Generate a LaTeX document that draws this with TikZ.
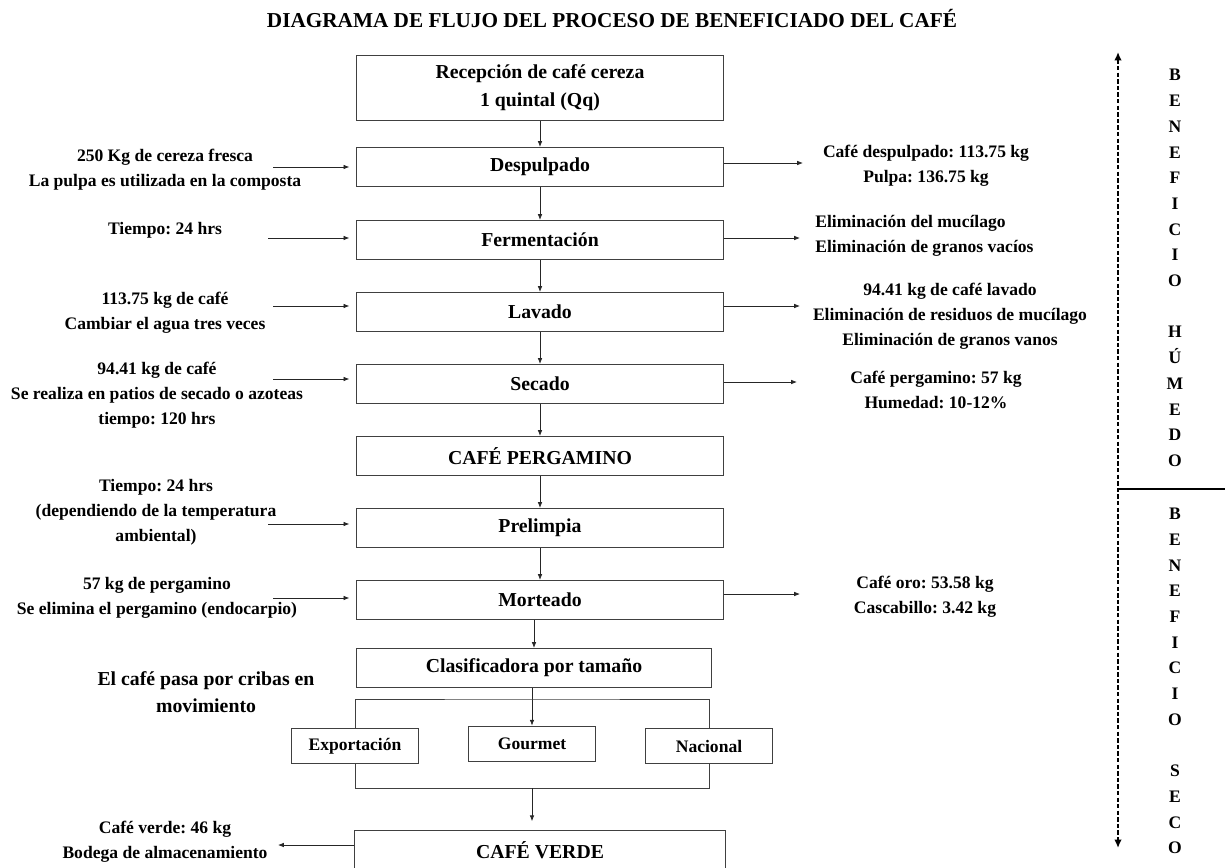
\documentclass[tikz,border=0pt]{standalone}
\usepackage{fontspec}
\setmainfont{Liberation Serif}
\usetikzlibrary{positioning,calc,arrows.meta}
\frenchspacing

\begin{document}
\begin{tikzpicture}[
  x=0.024cm, y=-0.024cm,
  caja/.style={
    draw=black!75, line width=0.6pt, align=center,
    minimum width=8.81cm, minimum height=0.94cm,
    font=\fontsize{13.5}{19}\selectfont\bfseries,
  },
  cajita/.style={
    caja, minimum width=3.05cm, minimum height=0.86cm,
    font=\fontsize{12}{15}\selectfont\bfseries,
  },
  nota/.style={align=center, inner sep=0pt, font=\fontsize{12}{17}\selectfont\bfseries},
  letras/.style={align=center, inner sep=0pt, font=\fontsize{12}{17.55}\selectfont\bfseries},
  flecha/.style={-{Latex[length=1.4mm,width=1.1mm]}, line width=0.5pt, black!85},
  linea/.style={line width=0.6pt, black!75},
  ]
  \clip (0,0) rectangle (1225,867);

  \node[font=\fontsize{14.5}{17}\selectfont\bfseries] (titulo) at (612,18)
    {DIAGRAMA DE FLUJO DEL PROCESO DE BENEFICIADO DEL CAFÉ};

  % proceso principal
  \node[caja, minimum height=1.58cm] (recep) at (540,88)  {Recepción de café cereza\\1 quintal (Qq)};
  \node[caja] (desp)  at (540,167) {Despulpado};
  \node[caja] (ferm)  at (540,240) {Fermentación};
  \node[caja] (lav)   at (540,312) {Lavado};
  \node[caja] (sec)   at (540,384) {Secado};
  \node[caja] (perg)  at (540,456) {CAFÉ PERGAMINO};
  \node[caja] (prel)  at (540,528) {Prelimpia};
  \node[caja] (mort)  at (540,600) {Morteado};
  \node[caja, minimum width=8.54cm] (clasif) at (534,668) {Clasificadora por tamaño};
  \node[cajita] (export)   at (355,746) {Exportación};
  \node[cajita] (gourmet)  at (532,744) {Gourmet};
  \node[cajita] (nacional) at (709,746) {Nacional};
  \node[caja, minimum width=8.9cm, minimum height=0.96cm] (verde) at (540,850) {CAFÉ VERDE};

  \foreach \a/\b in {recep/desp,desp/ferm,ferm/lav,lav/sec,sec/perg,perg/prel,prel/mort}
    \draw[flecha] (\a) -- (\b);
  \draw[flecha] (mort.south -| clasif.north) -- (clasif.north);

  \coordinate (rama)  at (532,699);
  \coordinate (junta) at (532,788);
  \draw[flecha] (clasif.south -| gourmet.north) -- (gourmet.north);
  \draw[linea] (export.north) |- (rama) -| (nacional.north);
  \draw[linea] (export.south) |- (junta) -| (nacional.south);
  \draw[flecha, shorten >=2mm] (junta) -- (junta |- verde.north);

  % entradas
  \node[nota] (t-desp) at (165,170) {250 Kg de cereza fresca\\La pulpa es utilizada en la composta};
  \node[nota] (t-ferm) at (165,230) {Tiempo: 24 hrs};
  \node[nota] (t-lav)  at (165,313) {113.75 kg de café\\Cambiar el agua tres veces};
  \node[nota] (t-sec)  at (157,395) {94.41 kg de café\\Se realiza en patios de secado o azoteas\\tiempo: 120 hrs};
  \node[nota] (t-prel) at (156,512) {Tiempo: 24 hrs\\(dependiendo de la temperatura\\ambiental)};
  \node[nota] (t-mort) at (157,598) {57 kg de pergamino\\Se elimina el pergamino (endocarpio)};
  \node[nota, font=\fontsize{13.5}{18.5}\selectfont\bfseries] (t-crib) at (206,692)
    {El café pasa por cribas en\\movimiento};
  \node[nota] (t-verde) at (165,842) {Café verde: 46 kg\\Bodega de almacenamiento};

  \coordinate (i-desp) at (273,167);
  \coordinate (i-ferm) at (268,238);
  \coordinate (i-lav)  at (273,306);
  \coordinate (i-sec)  at (273,379);
  \coordinate (i-prel) at (268,524);
  \coordinate (i-mort) at (273,598);
  \foreach \b in {desp,ferm,lav,sec,prel,mort}
    \draw[flecha, shorten >=1.6mm] (i-\b) -- (i-\b -| \b.west);

  % salidas
  \node[nota] (r-desp) at (926,166) {Café despulpado: 113.75 kg\\Pulpa: 136.75 kg};
  \node[nota, align=left, anchor=west] (r-ferm) at (815,236)
    {Eliminación del mucílago\\Eliminación de granos vacíos};
  \node[nota] (r-lav)  at (950,316) {94.41 kg de café lavado\\Eliminación de residuos de mucílago\\Eliminación de granos vanos};
  \node[nota] (r-sec)  at (936,390) {Café pergamino: 57 kg\\Humedad: 10-12\%};
  \node[nota] (r-mort) at (925,597) {Café oro: 53.58 kg\\Cascabillo: 3.42 kg};

  \coordinate (o-desp) at (803,163);
  \coordinate (o-ferm) at (800,238);
  \coordinate (o-lav)  at (800,306);
  \coordinate (o-sec)  at (797,382);
  \coordinate (o-mort) at (800,594);
  \foreach \b in {desp,ferm,lav,sec,mort}
    \draw[flecha] (o-\b -| \b.east) -- (o-\b);
  \coordinate (o-verde) at (278,845);
  \draw[flecha] (o-verde -| verde.west) -- (o-verde);

  % etapas del beneficio
  \coordinate (eje-arriba) at (1118,52);
  \coordinate (eje-abajo)  at (1118,848);
  \coordinate (corte)      at (1118,489);
  \coordinate (borde)      at (1225,489);
  \draw[line width=1.4pt, dash pattern=on 3pt off 1.5pt, {Latex[length=2mm,width=1.8mm]}-{Latex[length=2mm,width=1.8mm]}]
    (eje-arriba) -- (eje-abajo);
  \draw[line width=1.2pt] (corte) -- (borde);
  \node[letras] (humedo) at (1175,268)
    {B\\E\\N\\E\\F\\I\\C\\I\\O\\[17.55pt]H\\Ú\\M\\E\\D\\O};
  \node[letras] (seco) at (1175,681)
    {B\\E\\N\\E\\F\\I\\C\\I\\O\\[17.55pt]S\\E\\C\\O};
\end{tikzpicture}
\end{document}
